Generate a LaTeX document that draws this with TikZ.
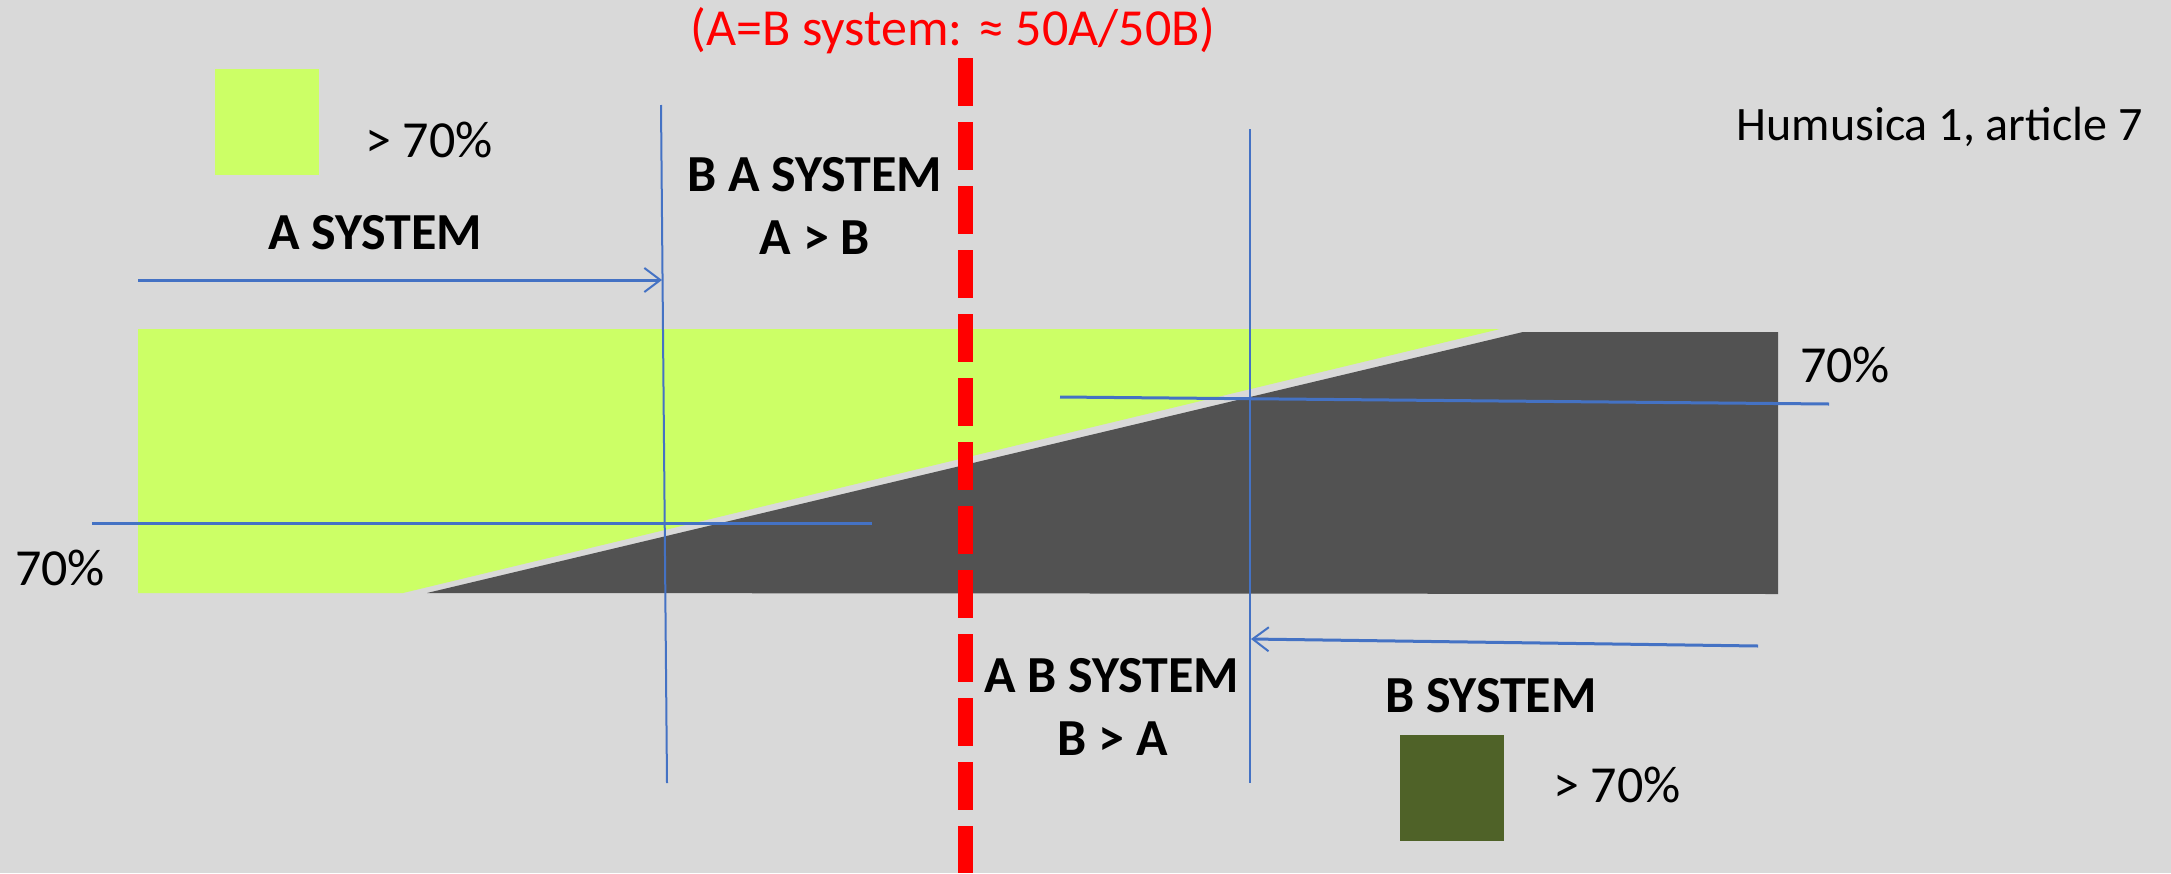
\documentclass[tikz,border=0pt]{standalone}
\usepackage{fontspec}
\setmainfont{Carlito}
\usetikzlibrary{arrows.meta,positioning}
\definecolor{bggray}{HTML}{D9D9D9}
\definecolor{agreen}{HTML}{CCFF66}
\definecolor{bdark}{HTML}{525252}
\definecolor{bgreen}{HTML}{4F6228}
\definecolor{lineblue}{HTML}{4472C4}

\begin{document}
\begin{tikzpicture}[
    x=1pt, y=-1pt,
    txt/.style={inner sep=0pt, anchor=base, font=\fontsize{52}{60}\selectfont},
    bold/.style={txt, font=\fontsize{52}{60}\selectfont\bfseries},
    swatch/.style={rectangle, inner sep=0pt, minimum width=104pt, minimum height=106pt},
    guide/.style={draw=lineblue, line width=2pt},
    cross/.style={draw=lineblue, line width=3pt},
    arrow/.style={cross, -{Straight Barb[length=16pt, width=24pt, line width=2pt]}},
    half/.style={draw=red, line width=15pt, dash pattern=on 48pt off 16pt},
  ]
    \useasboundingbox (0,0) rectangle (2171,873);
    \fill[bggray] (0,0) rectangle (2171,873);

    % share of A (light) against B (dark)
    \fill[agreen] (138,329) -- (1500,329) -- (403,593) -- (138,593) -- cycle;
    \fill[bdark] (427,593) -- (1523,332) -- (1778,332) -- (1778,594) -- cycle;

    % legend
    \node[swatch, fill=agreen] (keyA) at (267,122) {};
    \node[txt] (keyA txt) at (429,157) {> 70\%};
    \node[swatch, fill=bgreen] (keyB) at (1452,788) {};
    \node[txt] (keyB txt) at (1617,802) {> 70\%};

    % ends of the guide lines
    \coordinate (v1 top) at (661,105);
    \coordinate (v1 bot) at (667,783);
    \coordinate (v2 top) at (1250,129);
    \coordinate (v2 bot) at (1250,783);
    \coordinate (h1 west) at (92,523);
    \coordinate (h1 east) at (872,523);
    \coordinate (h2 west) at (1060,397);
    \coordinate (h2 east) at (1829,404);
    \coordinate (a tail) at (138,280);
    \coordinate (a tip) at (662,280);
    \coordinate (b tail) at (1758,646);
    \coordinate (b tip) at (1251,639);
    \coordinate (mid top) at (965,58);
    \coordinate (mid bot) at (965,873);

    \draw[half] (mid top) -- (mid bot);

    \draw[guide] (v1 top) -- (v1 bot);
    \draw[guide] (v2 top) -- (v2 bot);
    \draw[cross] (h1 west) -- (h1 east);
    \draw[cross] (h2 west) -- (h2 east);
    \draw[arrow] (a tail) -- (a tip);
    \draw[arrow] (b tail) -- (b tip);

    % labels
    \node[txt, text=red] (eq) at (953,45) {(A=B system: ≈ 50A/50B)};
    \node[txt, anchor=base east, font=\fontsize{48}{56}\selectfont] (src) at (2143,140) {Humusica 1, article 7};
    \node[bold] (sysA) at (375,249) {A SYSTEM};
    \node[bold] (sysBA) at (815,191) {B A SYSTEM};
    \node[bold] (sysBA rel) at (815,254) {A > B};
    \node[bold] (sysAB) at (1112,692) {A B SYSTEM};
    \node[bold] (sysAB rel) at (1113,755) {B > A};
    \node[bold] (sysB) at (1491,712) {B SYSTEM};
    \node[txt] (pctA) at (60,585) {70\%};
    \node[txt] (pctB) at (1845,382) {70\%};
  \end{tikzpicture}
\end{document}
